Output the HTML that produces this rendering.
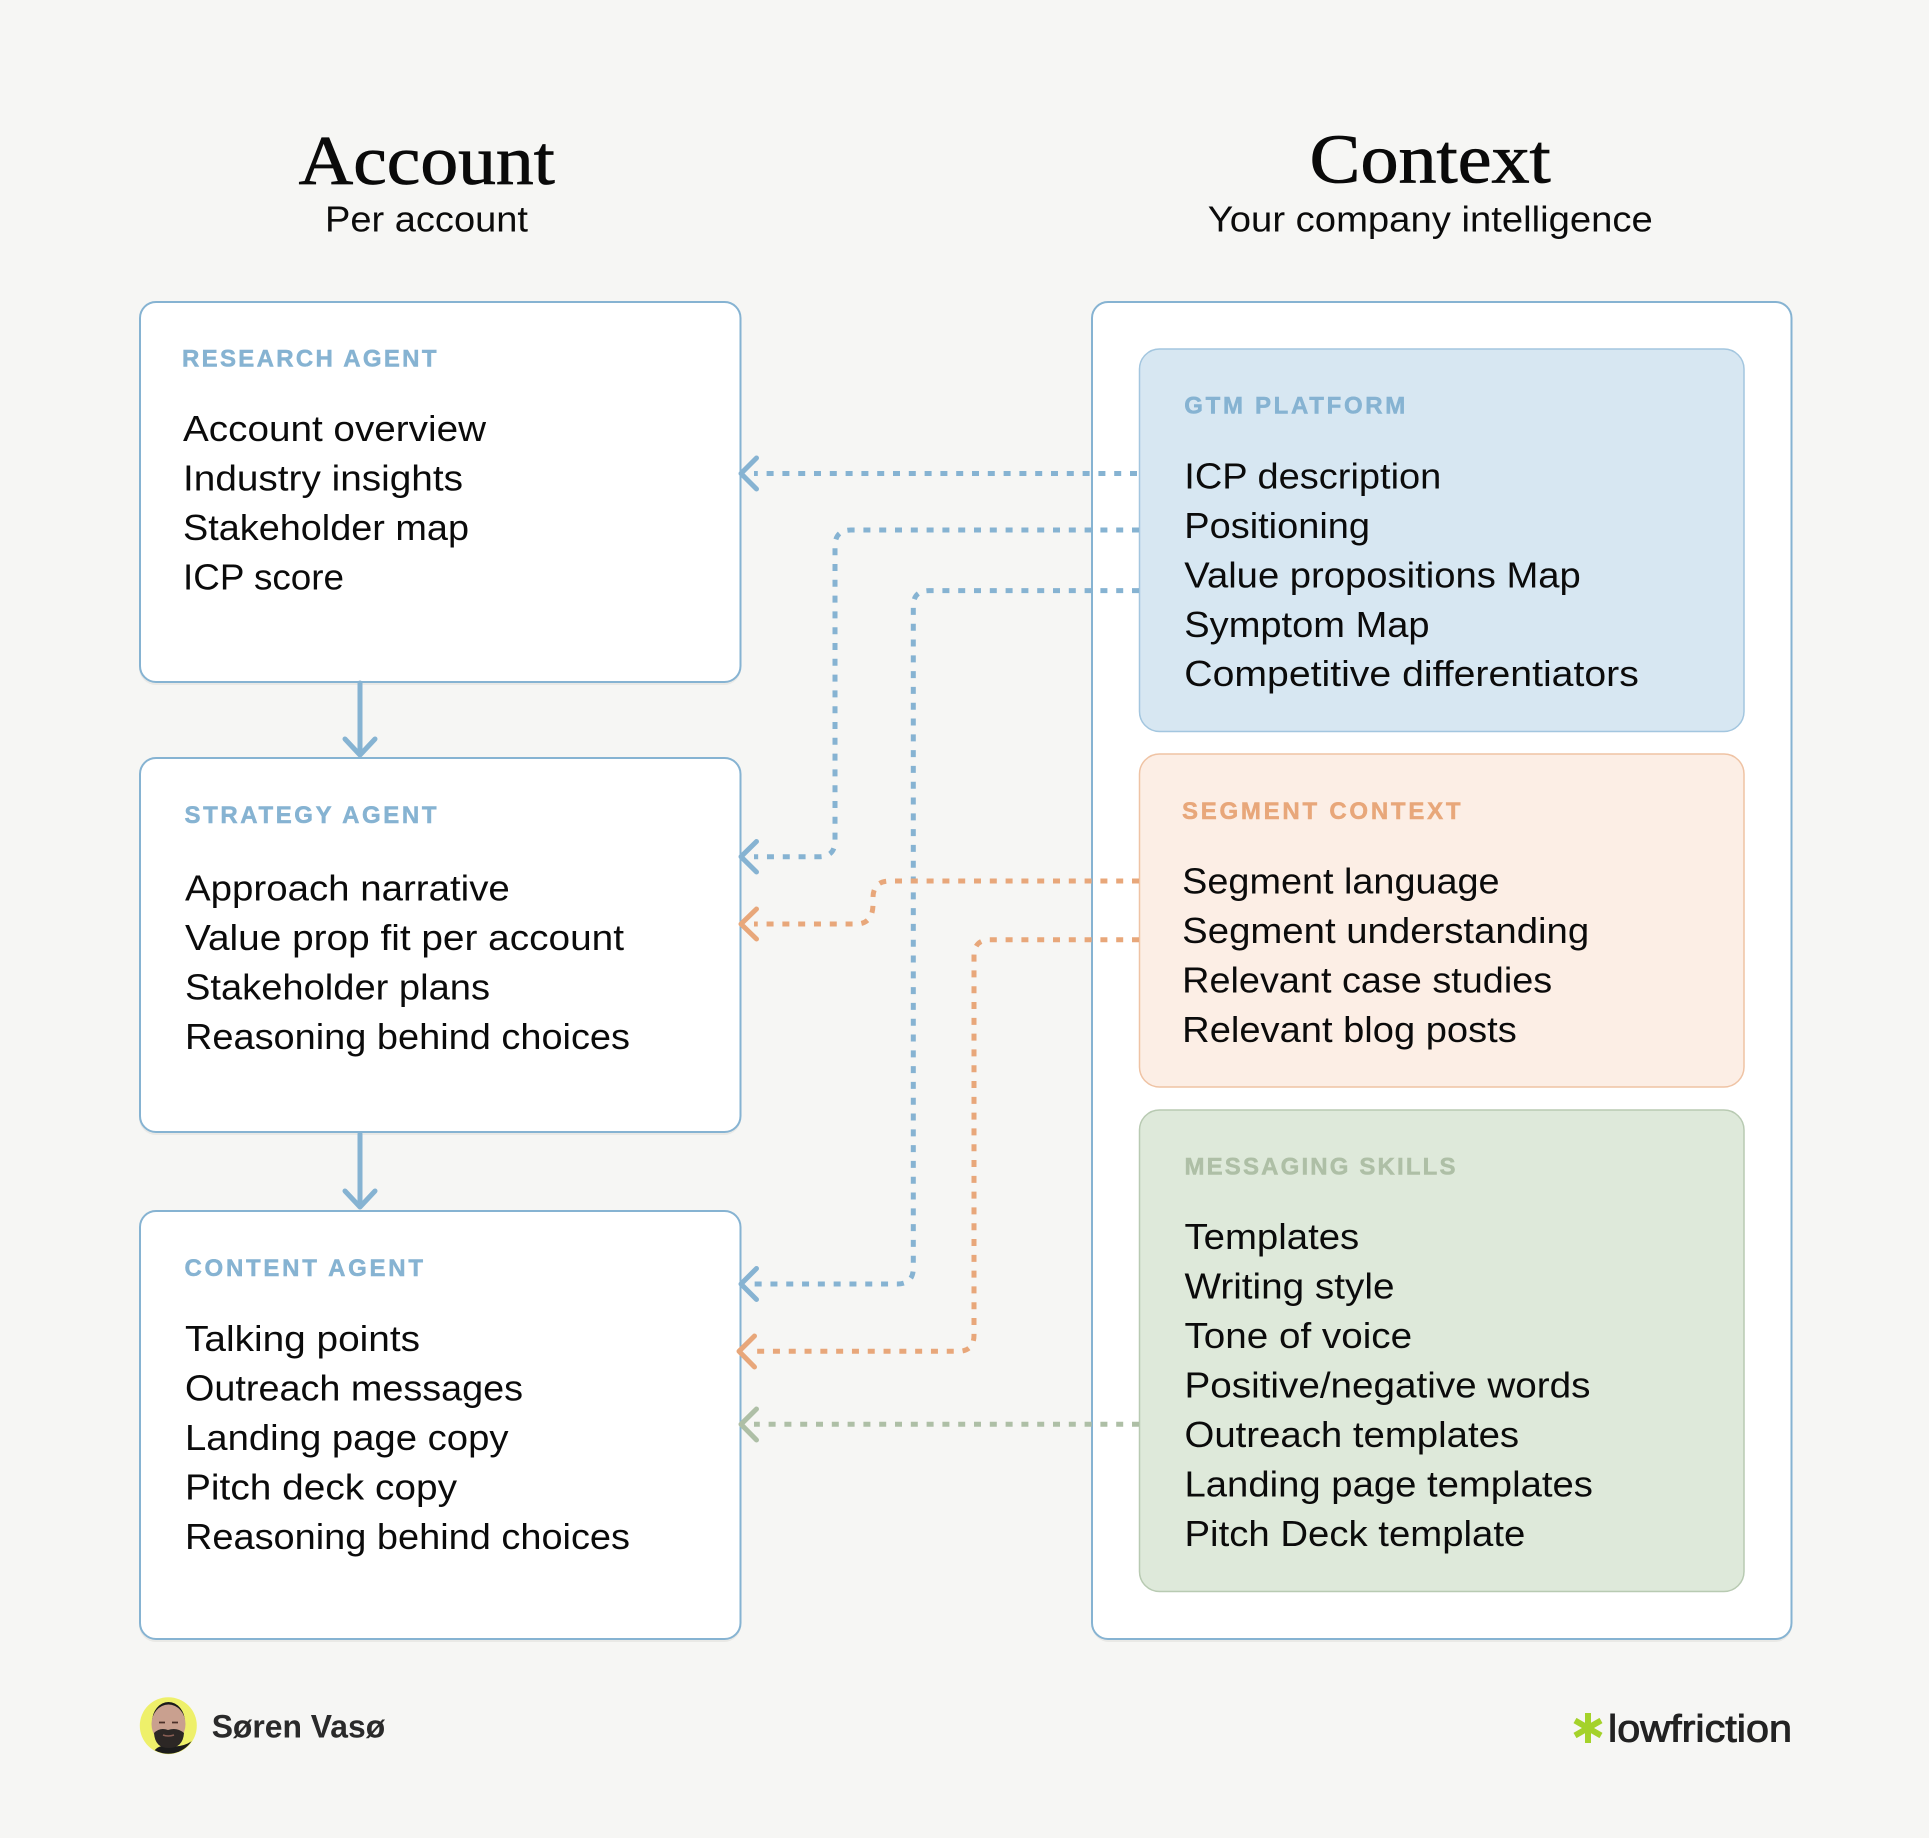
<!DOCTYPE html>
<html lang="en">
<head>
<meta charset="utf-8">
<title>Account and Context</title>
<style>
html,body{margin:0;padding:0;background:#f6f6f4}
svg{display:block}
.t{font-family:"Liberation Sans",sans-serif;font-size:36px;fill:#0b0b0b}
.l{font-family:"Liberation Sans",sans-serif;font-size:24px;font-weight:700;stroke-width:.5}
.s{font-family:"Liberation Sans",sans-serif;font-size:36px;fill:#0b0b0b}
.h{font-family:"Liberation Serif",serif;font-size:70px;fill:#0a0a0a;stroke:#0a0a0a;stroke-width:.8}
.d{fill:none;stroke-width:5;stroke-dasharray:7 8.8}
.a{fill:none;stroke-width:5;stroke-linecap:round;stroke-linejoin:round}
.b{stroke:#86b3d2}.o{stroke:#e8a77a}.g{stroke:#aebfa6}
.lb{fill:#86b3d2;stroke:#86b3d2}.lo{fill:#e8a77a;stroke:#e8a77a}.lg{fill:#aebfa6;stroke:#aebfa6}
</style>
</head>
<body>
<svg width="1929" height="1838" viewBox="0 0 1929 1838" xmlns="http://www.w3.org/2000/svg">
<rect width="1929" height="1838" fill="#f6f6f4"/>

<!-- headers -->
<text class="h" x="298.7" y="184" textLength="256" lengthAdjust="spacingAndGlyphs">Account</text>
<text class="s" x="325" y="231.6" textLength="203" lengthAdjust="spacingAndGlyphs">Per account</text>
<text class="h" x="1309.7" y="182.6" textLength="241" lengthAdjust="spacingAndGlyphs">Context</text>
<text class="s" x="1207.8" y="231.7" textLength="445" lengthAdjust="spacingAndGlyphs">Your company intelligence</text>

<!-- shadows -->
<g fill="#e9e9e6">
<rect x="139" y="304" width="602" height="381" rx="17"/>
<rect x="139" y="760" width="602" height="375" rx="17"/>
<rect x="139" y="1213" width="602" height="429" rx="17"/>
<rect x="1092" y="304" width="700" height="1338" rx="17"/>
</g>
<!-- left boxes -->
<g fill="#fff" stroke="#86b3d2" stroke-width="2">
<rect x="140" y="302" width="600.5" height="380" rx="16"/>
<rect x="140" y="758" width="600.5" height="374" rx="16"/>
<rect x="140" y="1211" width="600.5" height="428" rx="16"/>
<rect x="1092" y="302" width="699.5" height="1337" rx="16"/>
</g>
<!-- context boxes -->
<rect x="1139.5" y="349" width="604.5" height="382.5" rx="20" fill="#d7e7f2" stroke="#a3c6df" stroke-width="1.5"/>
<rect x="1139.5" y="754" width="604.5" height="333" rx="20" fill="#fceee5" stroke="#efc3a4" stroke-width="1.5"/>
<rect x="1139.5" y="1110" width="604.5" height="481.5" rx="20" fill="#dee9da" stroke="#b8cab2" stroke-width="1.5"/>

<!-- labels -->
<text class="l lb" x="182" y="366.7" textLength="254.5" lengthAdjust="spacing">RESEARCH AGENT</text>
<text class="l lb" x="184.5" y="823.1" textLength="252" lengthAdjust="spacing">STRATEGY AGENT</text>
<text class="l lb" x="184.5" y="1275.8" textLength="238.5" lengthAdjust="spacing">CONTENT AGENT</text>
<text class="l lb" x="1184.3" y="413.4" textLength="221" lengthAdjust="spacing">GTM PLATFORM</text>
<text class="l lo" x="1182" y="819" textLength="278.5" lengthAdjust="spacing">SEGMENT CONTEXT</text>
<text class="l lg" x="1184.5" y="1174.7" textLength="271" lengthAdjust="spacing">MESSAGING SKILLS</text>

<!-- research -->
<text class="t" x="183" y="440.8" textLength="303" lengthAdjust="spacingAndGlyphs">Account overview</text>
<text class="t" x="183" y="490.3" textLength="280" lengthAdjust="spacingAndGlyphs">Industry insights</text>
<text class="t" x="183" y="539.8" textLength="286" lengthAdjust="spacingAndGlyphs">Stakeholder map</text>
<text class="t" x="183" y="589.3" textLength="161" lengthAdjust="spacingAndGlyphs">ICP score</text>
<!-- strategy -->
<text class="t" x="185" y="900.7" textLength="324.8" lengthAdjust="spacingAndGlyphs">Approach narrative</text>
<text class="t" x="185" y="950.2" textLength="439" lengthAdjust="spacingAndGlyphs">Value prop fit per account</text>
<text class="t" x="185" y="999.7" textLength="305" lengthAdjust="spacingAndGlyphs">Stakeholder plans</text>
<text class="t" x="185" y="1049.2" textLength="445" lengthAdjust="spacingAndGlyphs">Reasoning behind choices</text>
<!-- content -->
<text class="t" x="185" y="1351" textLength="235" lengthAdjust="spacingAndGlyphs">Talking points</text>
<text class="t" x="185" y="1400.5" textLength="338" lengthAdjust="spacingAndGlyphs">Outreach messages</text>
<text class="t" x="185" y="1450" textLength="323.5" lengthAdjust="spacingAndGlyphs">Landing page copy</text>
<text class="t" x="185" y="1499.5" textLength="272" lengthAdjust="spacingAndGlyphs">Pitch deck copy</text>
<text class="t" x="185" y="1549" textLength="445" lengthAdjust="spacingAndGlyphs">Reasoning behind choices</text>
<!-- gtm -->
<text class="t" x="1184.3" y="488.4" textLength="257" lengthAdjust="spacingAndGlyphs">ICP description</text>
<text class="t" x="1184.3" y="537.9" textLength="185.7" lengthAdjust="spacingAndGlyphs">Positioning</text>
<text class="t" x="1184.3" y="587.3" textLength="396.5" lengthAdjust="spacingAndGlyphs">Value propositions Map</text>
<text class="t" x="1184.3" y="636.8" textLength="245.3" lengthAdjust="spacingAndGlyphs">Symptom Map</text>
<text class="t" x="1184.3" y="686.2" textLength="454.5" lengthAdjust="spacingAndGlyphs">Competitive differentiators</text>
<!-- segment -->
<text class="t" x="1182.2" y="893.3" textLength="317.4" lengthAdjust="spacingAndGlyphs">Segment language</text>
<text class="t" x="1182.2" y="942.8" textLength="407" lengthAdjust="spacingAndGlyphs">Segment understanding</text>
<text class="t" x="1182.2" y="992.3" textLength="370" lengthAdjust="spacingAndGlyphs">Relevant case studies</text>
<text class="t" x="1182.2" y="1041.8" textLength="334.6" lengthAdjust="spacingAndGlyphs">Relevant blog posts</text>
<!-- messaging -->
<text class="t" x="1184.5" y="1248.9" textLength="174.7" lengthAdjust="spacingAndGlyphs">Templates</text>
<text class="t" x="1184.5" y="1298.4" textLength="210" lengthAdjust="spacingAndGlyphs">Writing style</text>
<text class="t" x="1184.5" y="1347.9" textLength="227.6" lengthAdjust="spacingAndGlyphs">Tone of voice</text>
<text class="t" x="1184.5" y="1397.4" textLength="406" lengthAdjust="spacingAndGlyphs">Positive/negative words</text>
<text class="t" x="1184.5" y="1446.9" textLength="334.6" lengthAdjust="spacingAndGlyphs">Outreach templates</text>
<text class="t" x="1184.5" y="1496.4" textLength="408.4" lengthAdjust="spacingAndGlyphs">Landing page templates</text>
<text class="t" x="1184.5" y="1545.9" textLength="340.8" lengthAdjust="spacingAndGlyphs">Pitch Deck template</text>

<!-- solid arrows -->
<g class="a b">
<path d="M360 683V755M345 739L360 755L375 739"/>
<path d="M360 1134V1207M345 1191L360 1207L375 1191"/>
</g>

<!-- dotted connectors -->
<g class="d b">
<path d="M1137 473.5H754"/>
<path d="M1139 530H851Q835 530 835 546V841Q835 856.7 819 856.7H754"/>
<path d="M1139 590.6H929Q913.3 590.6 913.3 606V1268Q913.3 1284 897 1284H754"/>
</g>
<g class="d o">
<path d="M1139 881H890Q873 881 873 898V904Q873 924 856 924H754"/>
<path d="M1139 939.7H990Q974 939.7 974 956V1335Q974 1351.3 958 1351.3H752"/>
</g>
<path class="d g" d="M1139 1424.3H754"/>

<!-- arrowheads -->
<g class="a b">
<path d="M756.5 458L741 473.5L756.5 489"/>
<path d="M756.5 841.5L741 856.7L756.5 872"/>
<path d="M756.5 1268.5L741 1284L756.5 1299.5"/>
</g>
<g class="a o">
<path d="M756.5 909L741 924L756.5 939"/>
<path d="M754.5 1336L739 1351.3L754.5 1367"/>
</g>
<path class="a g" d="M756.5 1409L741 1424.3L756.5 1440"/>

<!-- avatar -->
<defs><clipPath id="av"><circle cx="168.3" cy="1725.7" r="28"/></clipPath></defs>
<circle cx="168.3" cy="1725.7" r="28.5" fill="#eef06a"/>
<g clip-path="url(#av)">
<path d="M150 1760Q154 1744 168 1746T192 1741L198 1760Z" fill="#1c1c1c"/>
<ellipse cx="168.5" cy="1722" rx="16.5" ry="20" fill="#1a1a1a"/>
<ellipse cx="168.5" cy="1724" rx="17" ry="19.5" fill="#c9a08f"/>
<path d="M154 1733Q160 1727 168 1730Q177 1727 184 1733Q183 1748 168.5 1748Q155 1748 154 1733Z" fill="#2c2725"/>
<path d="M159 1722.5h6M172 1722.500h6" stroke="#4b3029" stroke-width="1.8"/>
<path d="M163 1735Q168 1737 174 1735" stroke="#8a5f55" stroke-width="1.500" fill="none"/>
</g>
<text x="211.7" y="1737.7" font-family="Liberation Sans,sans-serif" font-size="32" font-weight="700" fill="#2a2a2a" textLength="173.5" lengthAdjust="spacingAndGlyphs">Søren Vasø</text>

<!-- logo -->
<g stroke="#a4d22a" stroke-width="6">
<path d="M1588 1713V1743"/>
<path d="M1575 1720.5L1601 1735.5"/>
<path d="M1575 1735.5L1601 1720.5"/>
</g>
<text x="1608" y="1741.7" font-family="Liberation Sans,sans-serif" font-size="38" fill="#222" stroke="#222" stroke-width=".9" textLength="184" lengthAdjust="spacingAndGlyphs">lowfriction</text>
</svg>
</body>
</html>
